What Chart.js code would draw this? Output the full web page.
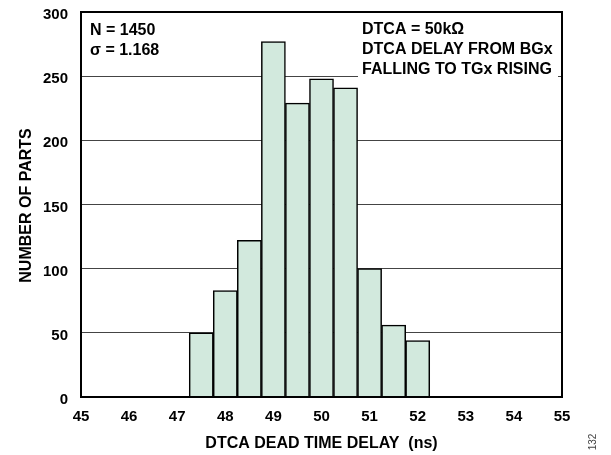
<!DOCTYPE html>
<html>
<head>
<meta charset="utf-8">
<script src="https://cdn.jsdelivr.net/npm/chart.js@4"></script>
<style>
html,body{margin:0;padding:0;background:#fff;}
#wrap{width:611px;height:455px;position:relative;}
</style>
</head>
<body>
<div id="wrap"><canvas id="c" width="611" height="455"></canvas></div>
<script>
// Data
const binCenters = [47.5, 48.0, 48.5, 49.0, 49.5, 50.0, 50.5, 51.0, 51.5, 52.0];
const counts     = [50, 83, 122, 277, 229, 248, 241, 100, 56, 44];
const xTicks = [45, 46, 47, 48, 49, 50, 51, 52, 53, 54, 55];
const yTicks = [0, 50, 100, 150, 200, 250, 300];
const xTitle = 'DTCA DEAD TIME DELAY  (ns)';
const yTitle = 'NUMBER OF PARTS';
const leftNotes = ['N = 1450', 'σ = 1.168'];
const rightNotes = ['DTCA = 50kΩ', 'DTCA DELAY FROM BGx', 'FALLING TO TGx RISING'];
const figNote = '132';

const FONT = '"Liberation Sans", Arial, Helvetica, sans-serif';

const decor = {
  id: 'decor',
  beforeDatasetsDraw(chart) {
    const ctx = chart.ctx, a = chart.chartArea;
    ctx.save();
    ctx.fillStyle = '#fff';
    ctx.fillRect(358, a.top + 1, 200, 66);
    ctx.restore();
  },
  afterDatasetsDraw(chart) {
    const ctx = chart.ctx, a = chart.chartArea;
    ctx.save();
    ctx.strokeStyle = '#000';
    ctx.lineWidth = 2;
    ctx.strokeRect(a.left, a.top, a.right - a.left, a.bottom - a.top);
    ctx.fillStyle = '#000';
    ctx.font = 'bold 16px ' + FONT;
    ctx.textBaseline = 'alphabetic';
    ctx.textAlign = 'left';
    leftNotes.forEach((t, i) => ctx.fillText(t, 90, 35 + i * 20));
    rightNotes.forEach((t, i) => ctx.fillText(t, 362, 33.5 + i * 20.3));
    ctx.textAlign = 'center';
    ctx.textBaseline = 'middle';
    ctx.fillText(xTitle, (a.left + a.right) / 2, 443.5);
    ctx.save();
    ctx.translate(27, 205.5);
    ctx.rotate(-Math.PI / 2);
    ctx.fillText(yTitle, 0, 0);
    ctx.restore();
    ctx.save();
    ctx.font = '10px ' + FONT;
    ctx.fillStyle = '#444';
    ctx.translate(593, 442);
    ctx.rotate(-Math.PI / 2);
    ctx.fillText(figNote, 0, 0);
    ctx.restore();
    ctx.restore();
  }
};

new Chart(document.getElementById('c'), {
  type: 'bar',
  data: {
    datasets: [{
      data: binCenters.map((x, i) => ({ x: x, y: counts[i] })),
      backgroundColor: '#d2e9dd',
      borderColor: '#000',
      borderWidth: 1.5,
      barPercentage: 1,
      categoryPercentage: 1
    }]
  },
  options: {
    responsive: false,
    animation: false,
    devicePixelRatio: 1,
    layout: { padding: { left: 0, right: 49, top: 12, bottom: 0 } },
    plugins: { legend: { display: false }, tooltip: { enabled: false } },
    scales: {
      x: {
        type: 'linear',
        offset: false,
        min: 45, max: 55,
        afterFit: s => { s.height = 58; s.paddingLeft = 0; s.paddingRight = 0; },
        afterBuildTicks: s => { s.ticks = xTicks.map(v => ({ value: v })); },
        grid: { display: false, drawTicks: false, offset: false },
        border: { display: false },
        ticks: { color: '#000', padding: 11, font: { family: FONT, size: 15, weight: 'bold' }, maxRotation: 0, autoSkip: false }
      },
      y: {
        min: 0, max: 300,
        afterFit: s => { s.width = 81; s.paddingTop = 0; s.paddingBottom = 0; },
        afterBuildTicks: s => { s.ticks = yTicks.map(v => ({ value: v })); },
        grid: { color: '#444', lineWidth: 1, drawTicks: false },
        border: { display: false },
        ticks: { color: '#000', padding: 13, labelOffset: 3, font: { family: FONT, size: 15, weight: 'bold' } }
      }
    }
  },
  plugins: [decor]
});
</script>
</body>
</html>
